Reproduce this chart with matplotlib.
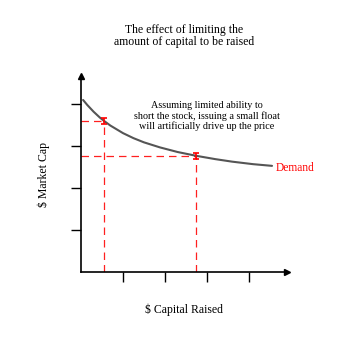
"""Effect of limiting the amount of capital raised on market cap."""

import matplotlib

matplotlib.use("Agg")
import matplotlib.pyplot as plt

# demand curve
curve_x = [0.05, 0.15, 0.3, 0.45, 0.55, 0.7, 0.85, 1.0, 1.25, 1.5, 1.88,
           2.3, 2.74, 3.2, 3.6, 4.1, 4.55]
curve_y = [4.10, 3.98, 3.82, 3.68, 3.60, 3.49, 3.40, 3.31, 3.19, 3.09, 2.97,
           2.86, 2.77, 2.69, 2.63, 2.57, 2.53]

# the two marked points (small float vs. larger float)
point_x = [0.55, 2.74]
point_y = [3.6, 2.77]

tick_x = [1, 2, 3, 4]
tick_y = [1, 2, 3, 4]

title = "The effect of limiting the\namount of capital to be raised"
note = "Assuming limited ability to\nshort the stock, issuing a small float\nwill artificially drive up the price"

plt.rcParams["font.family"] = ["Liberation Serif", "DejaVu Serif"]

fig = plt.figure(figsize=(3.6, 3.6), dpi=100)
ax = fig.add_axes([0.225, 0.2444, 0.572, 0.544])
ax.set_xlim(0, 4.905)
ax.set_ylim(0, 4.667)

for side in ("top", "right"):
    ax.spines[side].set_visible(False)
for side in ("left", "bottom"):
    ax.spines[side].set_linewidth(1.2)

# arrow heads on the axes
ax.plot(1, 0, ">", color="black", ms=4, transform=ax.transAxes, clip_on=False)
ax.plot(0, 1, "^", color="black", ms=4, transform=ax.transAxes, clip_on=False)

ax.set_xticks(tick_x)
ax.set_yticks(tick_y)
ax.set_xticklabels([])
ax.set_yticklabels([])
ax.tick_params(axis="both", direction="out", length=7, width=1, color="black")

# dashed guides to the marked points
dash = (0, (6, 4))
for px, py in zip(point_x, point_y):
    ax.plot([0, px], [py, py], color="#ff2020", lw=0.9, linestyle=dash)
    ax.plot([px, px], [0, py], color="#ff2020", lw=0.9, linestyle=dash)

ax.plot(curve_x, curve_y, color="#555555", lw=1.5, solid_capstyle="round")

ax.errorbar(
    point_x,
    point_y,
    yerr=0.07,
    fmt="none",
    ecolor="#ff0000",
    elinewidth=1.2,
    capsize=2.5,
    capthick=1.2,
)

ax.text(
    curve_x[-1] + 0.08,
    curve_y[-1] - 0.04,
    "Demand",
    color="#ff0000",
    fontsize=8.3,
    ha="left",
    va="center",
    clip_on=False,
)
ax.text(3.0, 3.71, note, fontsize=7.3, ha="center", va="center", linespacing=1.1)

fig.text(0.51, 0.90, title, fontsize=8.5, ha="center", va="center", linespacing=1.1)
ax.set_xlabel("$ Capital Raised", fontsize=8.5, labelpad=12.5)
ax.set_ylabel("$ Market Cap", fontsize=8.5, labelpad=11.5)

fig.savefig("out.png", dpi=100)
